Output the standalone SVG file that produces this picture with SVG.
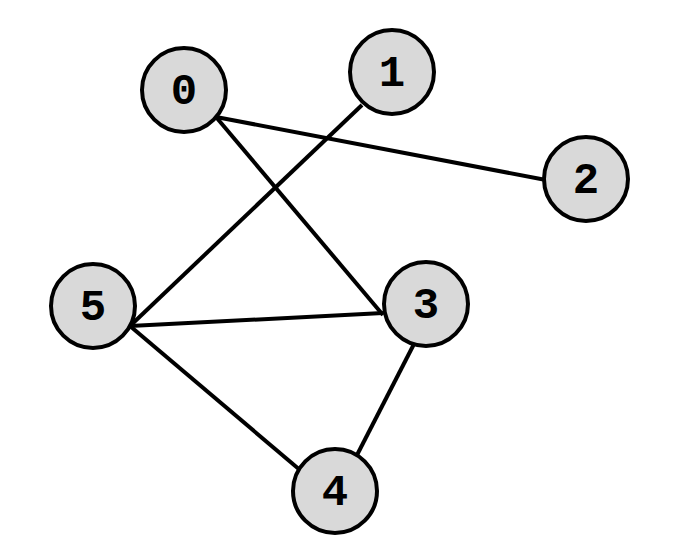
<svg xmlns="http://www.w3.org/2000/svg" width="674" height="558" viewBox="0 0 674 558">
<style>
.n circle{fill:#d9d9d9;stroke:#000;stroke-width:4}
.n text{font-family:"Liberation Mono","Courier New",monospace;font-weight:bold;font-size:44px;text-anchor:middle;dominant-baseline:central;fill:#000}
#edges line{stroke:#000;stroke-width:4}
</style>
<rect width="674" height="558" fill="#fff"/>
<g id="edges">
<line x1="216" y1="117" x2="546" y2="180"/>
<line x1="216" y1="117" x2="383" y2="315"/>
<line x1="362" y1="105" x2="130" y2="326"/>
<line x1="130" y1="326" x2="383" y2="313"/>
<line x1="130" y1="326" x2="300" y2="470"/>
<line x1="414" y1="344" x2="357" y2="455"/>
</g>
<g id="node0" class="n"><circle cx="184" cy="90" r="42"/><text x="184" y="92">0</text></g>
<g id="node1" class="n"><circle cx="392" cy="72" r="42"/><text x="392" y="74">1</text></g>
<g id="node2" class="n"><circle cx="586" cy="179" r="42"/><text x="586" y="181">2</text></g>
<g id="node3" class="n"><circle cx="426" cy="304" r="42"/><text x="426" y="306">3</text></g>
<g id="node4" class="n"><circle cx="335" cy="491" r="42"/><text x="335" y="493">4</text></g>
<g id="node5" class="n"><circle cx="93" cy="306" r="42"/><text x="93" y="308">5</text></g>
</svg>
